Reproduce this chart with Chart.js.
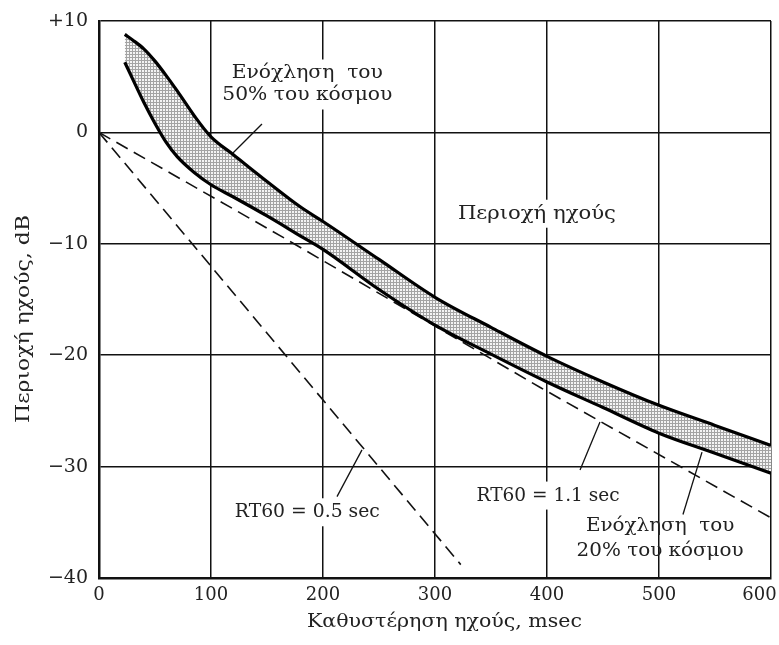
<!DOCTYPE html>
<html><head><meta charset="utf-8">
<script src="https://cdn.jsdelivr.net/npm/chart.js@4/dist/chart.umd.min.js"></script>
<style>html,body{margin:0;padding:0;background:#fff}#wrap{width:779px;height:645px;position:relative}</style>
</head><body><div id="wrap"><canvas id="c" width="779" height="645"></canvas></div>
<script>
// ---- data ----
const delayMs = [23, 30, 40, 50, 60, 70, 85, 100, 120, 150, 180, 200, 250, 300, 350, 400, 450, 500, 550, 600];
const annoy50 = [8.8, 8.3, 7.5, 6.4, 5.1, 3.7, 1.5, -0.4, -2.0, -4.4, -6.7, -8.0, -11.4, -14.8, -17.5, -20.1, -22.4, -24.5, -26.3, -28.1];
const annoy20 = [6.3, 4.8, 2.7, 0.8, -0.9, -2.2, -3.6, -4.7, -5.8, -7.5, -9.3, -10.5, -14.1, -17.3, -19.9, -22.4, -24.7, -27.0, -28.8, -30.6];
const rt05Ms = [0, 323];
const rt05Db = [0, -38.8];
const rt11Ms = [0, 164, 394, 600];
const rt11Db = [0, -9.4, -22.9, -34.6];
const xTickValues = [0, 100, 200, 300, 400, 500, 600];
const xTickLabels = ['0', '100', '200', '300', '400', '500', '600'];
const yTickValues = [10, 0, -10, -20, -30, -40];
const yTickLabels = ['+10', '0', '\u221210', '\u221220', '\u221230', '\u221240'];
const xTitle = 'Καθυστέρηση ηχούς, msec';
const yTitle = 'Περιοχή ηχούς, dB';

const FONT = 'DejaVu Serif';
const TXT = '#222';

const canvas = document.getElementById('c');
const ctx = canvas.getContext('2d');

function makePattern() {
  const p = document.createElement('canvas');
  p.width = 3; p.height = 3;
  const g = p.getContext('2d');
  g.fillStyle = '#f4f4f4'; g.fillRect(0, 0, 3, 3);
  g.fillStyle = '#a4a4a4'; g.fillRect(0, 0, 3, 1); g.fillRect(0, 0, 1, 3);
  return ctx.createPattern(p, 'repeat');
}

const pts = (xs, ys) => xs.map((x, i) => ({x, y: ys[i]}));

// annotation labels (anchor in data units, text box width in px)
const labels = [
  {lines: ['Ενόχληση  του', '50% του κόσμου'], x: 186, y: 4.3, w: 170, lh: 22, bg: true,
   leader: [[145.5, 0.75], [119.6, -1.85]]},
  {lines: ['Περιοχή ηχούς'], x: 391, y: -7.3, w: 158, lh: 22, bg: true},
  {lines: ['RT60 = 0.5 sec'], x: 186, y: -34.1, w: 145, lh: 22, bg: true,
   leader: [[212.5, -32.7], [234.8, -28.5]]},
  {lines: ['RT60 = 1.1 sec'], x: 401, y: -32.6, w: 143, lh: 22, bg: true,
   leader: [[429.5, -30.3], [447.3, -26.0]]},
  {lines: ['Ενόχληση  του', '20% του κόσμου'], x: 501, y: -36.5, w: 167, lh: 25, bg: false,
   leader: [[521.4, -34.3], [538.4, -28.7]]}
];

function fitText(c, text, x, y, width) {
  const natural = c.measureText(text).width;
  const s = width / natural;
  c.save();
  c.translate(x, y);
  c.scale(s, 1);
  c.fillText(text, 0, 0);
  c.restore();
}

const annotPlugin = {
  id: 'annot',
  afterDatasetsDraw(chart) {
    const c = chart.ctx, xs = chart.scales.x, ys = chart.scales.y;
    c.save();
    c.font = '19px "' + FONT + '"';
    c.textAlign = 'center';
    c.textBaseline = 'middle';
    labels.forEach(l => {
      const cx = xs.getPixelForValue(l.x), cy = ys.getPixelForValue(l.y);
      const n = l.lines.length, lh = l.lh;
      const nat = Math.max(...l.lines.map(t => c.measureText(t).width));
      const s = l.w / nat;
      if (l.bg) {
        c.fillStyle = '#fff';
        c.fillRect(cx - l.w / 2 - 3, cy - n * lh / 2 - 3, l.w + 6, n * lh + 6);
      }
      c.fillStyle = TXT;
      l.lines.forEach((t, i) => {
        fitText(c, t, cx, cy + (i - (n - 1) / 2) * lh, c.measureText(t).width * s);
      });
      if (l.leader) {
        c.strokeStyle = '#111'; c.lineWidth = 1.3;
        c.beginPath();
        c.moveTo(xs.getPixelForValue(l.leader[0][0]), ys.getPixelForValue(l.leader[0][1]));
        c.lineTo(xs.getPixelForValue(l.leader[1][0]), ys.getPixelForValue(l.leader[1][1]));
        c.stroke();
      }
    });
    // axis titles
    c.font = '19px "' + FONT + '"';
    fitText(c, xTitle, 444.5, 622, 275);
    c.translate(24, 319);
    c.rotate(-Math.PI / 2);
    fitText(c, yTitle, 0, 0, 208);
    c.restore();
  }
};

new Chart(ctx, {
  type: 'line',
  data: {
    datasets: [
      {label: 'Ενόχληση 50%', data: pts(delayMs, annoy50), borderColor: '#000', borderWidth: 3.2,
       pointRadius: 0, tension: 0.4, cubicInterpolationMode: 'monotone', fill: '+1',
       backgroundColor: makePattern()},
      {label: 'Ενόχληση 20%', data: pts(delayMs, annoy20), borderColor: '#000', borderWidth: 3.2,
       pointRadius: 0, tension: 0.4, cubicInterpolationMode: 'monotone', fill: false},
      {label: 'RT60 = 0.5 sec', data: pts(rt05Ms, rt05Db), borderColor: '#111', borderWidth: 1.6,
       borderDash: [13, 7], pointRadius: 0, fill: false},
      {label: 'RT60 = 1.1 sec', data: pts(rt11Ms, rt11Db), borderColor: '#111', borderWidth: 1.6,
       borderDash: [13, 7], pointRadius: 0, tension: 0, fill: false}
    ]
  },
  options: {
    responsive: false,
    animation: false,
    devicePixelRatio: 1,
    layout: {padding: {left: 0, top: 21, right: 8, bottom: 0}},
    plugins: {legend: {display: false}, tooltip: {enabled: false},
              filler: {drawTime: 'beforeDatasetsDraw'}},
    scales: {
      x: {
        type: 'linear', min: 0, max: 600,
        afterBuildTicks: s => { s.ticks = xTickValues.map(v => ({value: v})); },
        afterFit: s => { s.height = 67; s.paddingLeft = 0; s.paddingRight = 0; },
        ticks: {color: TXT, font: {family: FONT, size: 18}, padding: 7, maxRotation: 0,
                callback: v => {
                  const t = xTickLabels[xTickValues.indexOf(v)];
                  return v === 600 ? t + '\u2007\u2007' : t;
                }},
        grid: {color: '#111', lineWidth: 1.5, drawTicks: false},
        border: {color: '#111', width: 2.5}
      },
      y: {
        type: 'linear', min: -40, max: 10,
        afterBuildTicks: s => { s.ticks = yTickValues.map(v => ({value: v})); },
        afterFit: s => { s.width = 99; s.paddingTop = 0; s.paddingBottom = 0; },
        ticks: {color: TXT, font: {family: FONT, size: 19}, padding: 11,
                callback: v => yTickLabels[yTickValues.indexOf(v)]},
        grid: {color: '#111', lineWidth: 1.5, drawTicks: false},
        border: {color: '#111', width: 2.5}
      }
    }
  },
  plugins: [annotPlugin]
});
</script></body></html>
